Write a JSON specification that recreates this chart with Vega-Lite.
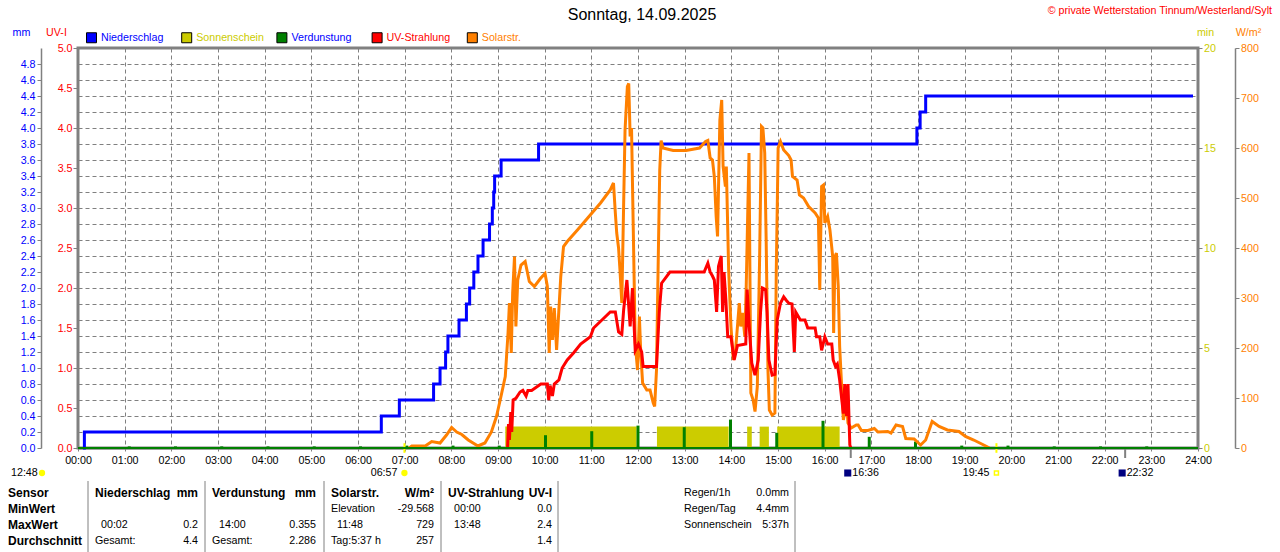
{
  "$schema": "https://vega.github.io/schema/vega-lite/v6.json",
  "width": 1120,
  "height": 400,
  "autosize": {"type": "none"},
  "padding": {"left": 78, "top": 48, "right": 82, "bottom": 104},
  "config": {
    "font": "Liberation Sans",
    "background": "#ffffff",
    "view": {"stroke": "#808080", "strokeWidth": 3},
    "axis": {"labelFont": "Liberation Sans", "labelFontSize": 10.7, "titleFont": "Liberation Sans", "titleFontSize": 10.7, "titleFontWeight": "normal",
      "gridColor": "#808080", "gridDash": [4, 3], "gridOpacity": 1, "gridWidth": 1, "domainColor": "#808080", "tickColor": "#808080"},
    "text": {"font": "Liberation Sans", "fontSize": 10.7, "color": "#000000"}
  },
  "datasets": {
    "header": [
      {"kind": "title", "text": "Sonntag, 14.09.2025"},
      {"kind": "copy", "text": "© private Wetterstation Tinnum/Westerland/Sylt"}
    ],
    "rain": [
      {"h": 0, "mm": 0}, {"h": 0.03, "mm": 0.2}, {"h": 6.45, "mm": 0.4}, {"h": 6.84, "mm": 0.6}, {"h": 7.58, "mm": 0.8},
      {"h": 7.72, "mm": 1.0}, {"h": 7.84, "mm": 1.2}, {"h": 7.89, "mm": 1.4}, {"h": 8.13, "mm": 1.6}, {"h": 8.29, "mm": 1.8},
      {"h": 8.36, "mm": 2.0}, {"h": 8.45, "mm": 2.2}, {"h": 8.54, "mm": 2.4}, {"h": 8.65, "mm": 2.6}, {"h": 8.79, "mm": 2.8},
      {"h": 8.85, "mm": 3.0}, {"h": 8.88, "mm": 3.2}, {"h": 8.9, "mm": 3.4}, {"h": 9.04, "mm": 3.6}, {"h": 9.85, "mm": 3.8},
      {"h": 18.03, "mm": 4.0}, {"h": 18.1, "mm": 4.2}, {"h": 18.22, "mm": 4.4}, {"h": 24, "mm": 4.4}
    ],
    "evap": [
      {"h": 1, "mm": 0.02}, {"h": 2, "mm": 0.02}, {"h": 3, "mm": 0.02}, {"h": 4, "mm": 0.02}, {"h": 5, "mm": 0.02},
      {"h": 6, "mm": 0.02}, {"h": 7, "mm": 0.03}, {"h": 8, "mm": 0.03}, {"h": 9, "mm": 0.03}, {"h": 10, "mm": 0.16},
      {"h": 11, "mm": 0.21}, {"h": 12, "mm": 0.28}, {"h": 13, "mm": 0.26}, {"h": 14, "mm": 0.355}, {"h": 15, "mm": 0.19},
      {"h": 16, "mm": 0.34}, {"h": 17, "mm": 0.14}, {"h": 18, "mm": 0.08}, {"h": 19, "mm": 0.03}, {"h": 20, "mm": 0.03},
      {"h": 21, "mm": 0.02}, {"h": 22, "mm": 0.02}, {"h": 23, "mm": 0.02}
    ],
    "sun": [
      {"h1": 9.13, "h2": 11.97, "min": 1.07}, {"h1": 12.41, "h2": 13.96, "min": 1.07}, {"h1": 14.36, "h2": 14.46, "min": 1.07},
      {"h1": 14.63, "h2": 14.83, "min": 1.07}, {"h1": 15.01, "h2": 16.36, "min": 1.07}
    ],
    "uv": [
      {"h": 9.18, "uv": 0}, {"h": 9.2, "uv": 0.3}, {"h": 9.22, "uv": 0.1}, {"h": 9.25, "uv": 0.45}, {"h": 9.27, "uv": 0.2},
      {"h": 9.3, "uv": 0.6}, {"h": 9.36, "uv": 0.62}, {"h": 9.45, "uv": 0.7}, {"h": 9.51, "uv": 0.72}, {"h": 9.58, "uv": 0.65},
      {"h": 9.62, "uv": 0.72}, {"h": 9.7, "uv": 0.72}, {"h": 9.9, "uv": 0.8}, {"h": 10.04, "uv": 0.8}, {"h": 10.07, "uv": 0.6},
      {"h": 10.1, "uv": 0.78}, {"h": 10.15, "uv": 0.65}, {"h": 10.19, "uv": 0.8}, {"h": 10.29, "uv": 0.85}, {"h": 10.36, "uv": 1.0},
      {"h": 10.47, "uv": 1.1}, {"h": 10.61, "uv": 1.19}, {"h": 10.76, "uv": 1.3}, {"h": 10.97, "uv": 1.39}, {"h": 11.04, "uv": 1.5},
      {"h": 11.22, "uv": 1.6}, {"h": 11.4, "uv": 1.7}, {"h": 11.51, "uv": 1.7}, {"h": 11.58, "uv": 1.45}, {"h": 11.65, "uv": 1.42},
      {"h": 11.69, "uv": 1.73}, {"h": 11.76, "uv": 2.1}, {"h": 11.83, "uv": 1.52}, {"h": 11.88, "uv": 2.0}, {"h": 11.94, "uv": 1.22},
      {"h": 12.01, "uv": 1.3}, {"h": 12.08, "uv": 1.2}, {"h": 12.11, "uv": 1.02}, {"h": 12.4, "uv": 1.02}, {"h": 12.46, "uv": 1.7},
      {"h": 12.51, "uv": 2.06}, {"h": 12.69, "uv": 2.2}, {"h": 13.43, "uv": 2.2}, {"h": 13.51, "uv": 2.31}, {"h": 13.56, "uv": 2.2},
      {"h": 13.61, "uv": 2.15}, {"h": 13.65, "uv": 2.1}, {"h": 13.7, "uv": 1.7}, {"h": 13.74, "uv": 2.27}, {"h": 13.8, "uv": 2.4},
      {"h": 13.83, "uv": 1.7}, {"h": 13.86, "uv": 2.2}, {"h": 13.9, "uv": 1.85}, {"h": 13.94, "uv": 1.39}, {"h": 14.01, "uv": 1.39},
      {"h": 14.08, "uv": 1.1}, {"h": 14.15, "uv": 1.28}, {"h": 14.33, "uv": 1.3}, {"h": 14.36, "uv": 1.98}, {"h": 14.4, "uv": 1.56},
      {"h": 14.46, "uv": 1.06}, {"h": 14.53, "uv": 0.91}, {"h": 14.6, "uv": 1.1}, {"h": 14.65, "uv": 1.7}, {"h": 14.69, "uv": 2.0},
      {"h": 14.76, "uv": 1.98}, {"h": 14.79, "uv": 1.7}, {"h": 14.83, "uv": 1.1}, {"h": 14.9, "uv": 0.91}, {"h": 14.96, "uv": 0.92},
      {"h": 15.01, "uv": 1.6}, {"h": 15.08, "uv": 1.81}, {"h": 15.15, "uv": 1.89}, {"h": 15.2, "uv": 1.85}, {"h": 15.26, "uv": 1.81},
      {"h": 15.33, "uv": 1.8}, {"h": 15.38, "uv": 1.2}, {"h": 15.41, "uv": 1.7}, {"h": 15.51, "uv": 1.6}, {"h": 15.61, "uv": 1.6},
      {"h": 15.67, "uv": 1.5}, {"h": 15.83, "uv": 1.5}, {"h": 15.86, "uv": 1.39}, {"h": 15.93, "uv": 1.39}, {"h": 15.97, "uv": 1.22},
      {"h": 16.04, "uv": 1.39}, {"h": 16.1, "uv": 1.3}, {"h": 16.19, "uv": 1.3}, {"h": 16.22, "uv": 1.1}, {"h": 16.27, "uv": 1.02},
      {"h": 16.31, "uv": 1.05}, {"h": 16.36, "uv": 0.85}, {"h": 16.44, "uv": 0.43}, {"h": 16.47, "uv": 0.8}, {"h": 16.51, "uv": 0.4},
      {"h": 16.54, "uv": 0.8}, {"h": 16.58, "uv": 0.04}, {"h": 16.6, "uv": 0}
    ],
    "solar": [
      {"h": 7.05, "w": 0}, {"h": 7.11, "w": 4}, {"h": 7.4, "w": 4}, {"h": 7.54, "w": 13}, {"h": 7.72, "w": 10},
      {"h": 7.86, "w": 26}, {"h": 7.97, "w": 41}, {"h": 8.08, "w": 32}, {"h": 8.19, "w": 27}, {"h": 8.33, "w": 16},
      {"h": 8.54, "w": 4}, {"h": 8.69, "w": 10}, {"h": 8.83, "w": 32}, {"h": 8.94, "w": 63}, {"h": 9.03, "w": 100},
      {"h": 9.13, "w": 143}, {"h": 9.19, "w": 230}, {"h": 9.22, "w": 290}, {"h": 9.26, "w": 190}, {"h": 9.29, "w": 310},
      {"h": 9.33, "w": 383}, {"h": 9.36, "w": 243}, {"h": 9.4, "w": 336}, {"h": 9.47, "w": 366}, {"h": 9.56, "w": 373},
      {"h": 9.65, "w": 333}, {"h": 9.76, "w": 323}, {"h": 9.89, "w": 339}, {"h": 9.99, "w": 349}, {"h": 10.04, "w": 323},
      {"h": 10.08, "w": 190}, {"h": 10.11, "w": 283}, {"h": 10.15, "w": 216}, {"h": 10.19, "w": 280}, {"h": 10.24, "w": 196},
      {"h": 10.33, "w": 343}, {"h": 10.39, "w": 403}, {"h": 10.47, "w": 413}, {"h": 10.69, "w": 436}, {"h": 10.94, "w": 463},
      {"h": 11.19, "w": 490}, {"h": 11.4, "w": 516}, {"h": 11.47, "w": 530}, {"h": 11.51, "w": 470}, {"h": 11.54, "w": 430},
      {"h": 11.58, "w": 400}, {"h": 11.61, "w": 356}, {"h": 11.65, "w": 290}, {"h": 11.69, "w": 490}, {"h": 11.72, "w": 636},
      {"h": 11.77, "w": 723}, {"h": 11.8, "w": 729}, {"h": 11.83, "w": 623}, {"h": 11.86, "w": 640}, {"h": 11.9, "w": 426},
      {"h": 11.94, "w": 210}, {"h": 11.99, "w": 156}, {"h": 12.03, "w": 263}, {"h": 12.06, "w": 190}, {"h": 12.1, "w": 130},
      {"h": 12.19, "w": 116}, {"h": 12.26, "w": 116}, {"h": 12.33, "w": 90}, {"h": 12.36, "w": 83}, {"h": 12.4, "w": 156},
      {"h": 12.44, "w": 390}, {"h": 12.47, "w": 556}, {"h": 12.5, "w": 615}, {"h": 12.54, "w": 600}, {"h": 12.76, "w": 595},
      {"h": 13.04, "w": 595}, {"h": 13.33, "w": 600}, {"h": 13.46, "w": 613}, {"h": 13.51, "w": 615}, {"h": 13.56, "w": 580},
      {"h": 13.61, "w": 576}, {"h": 13.65, "w": 543}, {"h": 13.69, "w": 463}, {"h": 13.72, "w": 423}, {"h": 13.77, "w": 656},
      {"h": 13.81, "w": 696}, {"h": 13.84, "w": 563}, {"h": 13.89, "w": 523}, {"h": 13.91, "w": 563}, {"h": 13.96, "w": 356},
      {"h": 14.01, "w": 243}, {"h": 14.06, "w": 176}, {"h": 14.11, "w": 196}, {"h": 14.19, "w": 290}, {"h": 14.22, "w": 243},
      {"h": 14.26, "w": 270}, {"h": 14.31, "w": 223}, {"h": 14.34, "w": 323}, {"h": 14.4, "w": 590}, {"h": 14.44, "w": 110},
      {"h": 14.49, "w": 96}, {"h": 14.53, "w": 73}, {"h": 14.58, "w": 123}, {"h": 14.63, "w": 383}, {"h": 14.67, "w": 643},
      {"h": 14.7, "w": 640}, {"h": 14.74, "w": 590}, {"h": 14.77, "w": 423}, {"h": 14.81, "w": 156}, {"h": 14.84, "w": 76},
      {"h": 14.9, "w": 66}, {"h": 14.96, "w": 70}, {"h": 14.99, "w": 356}, {"h": 15.03, "w": 600}, {"h": 15.08, "w": 613},
      {"h": 15.15, "w": 596}, {"h": 15.26, "w": 585}, {"h": 15.31, "w": 576}, {"h": 15.34, "w": 543}, {"h": 15.44, "w": 536},
      {"h": 15.49, "w": 506}, {"h": 15.58, "w": 500}, {"h": 15.69, "w": 483}, {"h": 15.83, "w": 470}, {"h": 15.9, "w": 460},
      {"h": 15.93, "w": 316}, {"h": 15.97, "w": 523}, {"h": 16.01, "w": 526}, {"h": 16.04, "w": 450}, {"h": 16.1, "w": 463},
      {"h": 16.15, "w": 436}, {"h": 16.21, "w": 383}, {"h": 16.23, "w": 230}, {"h": 16.26, "w": 383}, {"h": 16.29, "w": 390},
      {"h": 16.33, "w": 323}, {"h": 16.36, "w": 203}, {"h": 16.44, "w": 56}, {"h": 16.51, "w": 90}, {"h": 16.54, "w": 50},
      {"h": 16.61, "w": 40}, {"h": 16.72, "w": 46}, {"h": 16.76, "w": 46}, {"h": 16.83, "w": 35}, {"h": 16.97, "w": 35},
      {"h": 17.11, "w": 39}, {"h": 17.19, "w": 32}, {"h": 17.4, "w": 33}, {"h": 17.47, "w": 30}, {"h": 17.58, "w": 46},
      {"h": 17.72, "w": 43}, {"h": 17.79, "w": 19}, {"h": 17.97, "w": 18}, {"h": 18.11, "w": 6}, {"h": 18.22, "w": 16},
      {"h": 18.36, "w": 53}, {"h": 18.51, "w": 43}, {"h": 18.69, "w": 36}, {"h": 18.94, "w": 33}, {"h": 19.08, "w": 23},
      {"h": 19.26, "w": 16}, {"h": 19.54, "w": 3}, {"h": 19.6, "w": 0}
    ],
    "events": [
      {"h": 6.95, "t": "06:57", "kind": "sun", "name": "Sonnenaufgang"},
      {"h": 19.75, "t": "19:45", "kind": "sun", "name": "Sonnenuntergang"},
      {"h": 16.6, "t": "16:36", "kind": "moon", "name": "Monduntergang"},
      {"h": 22.533, "t": "22:32", "kind": "moon", "name": "Mondaufgang"}
    ],
    "table": [
      {"r": 0, "c": 1, "s": "n", "text": "12:48"},
      {"r": 0, "c": 2, "s": "icon", "text": ""},
      {"r": 1, "c": 0, "s": "b", "text": "Sensor"},
      {"r": 1, "c": 4, "s": "b", "text": "Niederschlag"},
      {"r": 1, "c": 6, "s": "br", "text": "mm"},
      {"r": 1, "c": 8, "s": "b", "text": "Verdunstung"},
      {"r": 1, "c": 10, "s": "br", "text": "mm"},
      {"r": 1, "c": 12, "s": "b", "text": "Solarstr."},
      {"r": 1, "c": 14, "s": "br", "text": "W/m²"},
      {"r": 1, "c": 16, "s": "b", "text": "UV-Strahlung"},
      {"r": 1, "c": 18, "s": "br", "text": "UV-I"},
      {"r": 1, "c": 20, "s": "n", "text": "Regen/1h"},
      {"r": 1, "c": 21, "s": "nr", "text": "0.0mm"},
      {"r": 2, "c": 0, "s": "b", "text": "MinWert"},
      {"r": 2, "c": 12, "s": "n", "text": "Elevation"},
      {"r": 2, "c": 14, "s": "nr", "text": "-29.568"},
      {"r": 2, "c": 17, "s": "n", "text": "00:00"},
      {"r": 2, "c": 18, "s": "nr", "text": "0.0"},
      {"r": 2, "c": 20, "s": "n", "text": "Regen/Tag"},
      {"r": 2, "c": 21, "s": "nr", "text": "4.4mm"},
      {"r": 3, "c": 0, "s": "b", "text": "MaxWert"},
      {"r": 3, "c": 5, "s": "n", "text": "00:02"},
      {"r": 3, "c": 6, "s": "nr", "text": "0.2"},
      {"r": 3, "c": 9, "s": "n", "text": "14:00"},
      {"r": 3, "c": 10, "s": "nr", "text": "0.355"},
      {"r": 3, "c": 13, "s": "n", "text": "11:48"},
      {"r": 3, "c": 14, "s": "nr", "text": "729"},
      {"r": 3, "c": 17, "s": "n", "text": "13:48"},
      {"r": 3, "c": 18, "s": "nr", "text": "2.4"},
      {"r": 3, "c": 20, "s": "n", "text": "Sonnenschein"},
      {"r": 3, "c": 21, "s": "nr", "text": "5:37h"},
      {"r": 4, "c": 0, "s": "b", "text": "Durchschnitt"},
      {"r": 4, "c": 4, "s": "n", "text": "Gesamt:"},
      {"r": 4, "c": 6, "s": "nr", "text": "4.4"},
      {"r": 4, "c": 8, "s": "n", "text": "Gesamt:"},
      {"r": 4, "c": 10, "s": "nr", "text": "2.286"},
      {"r": 4, "c": 12, "s": "n", "text": "Tag:5:37 h"},
      {"r": 4, "c": 14, "s": "nr", "text": "257"},
      {"r": 4, "c": 18, "s": "nr", "text": "1.4"}
    ],
    "seps": [{"c": 3}, {"c": 7}, {"c": 11}, {"c": 15}, {"c": 19}, {"c": 22}]
  },
  "layer": [
    {
      "layer": [
        {
          "data": {"name": "sun"},
          "mark": {"type": "rect", "color": "#cccc00"},
          "encoding": {
            "x": {"field": "h1", "type": "quantitative", "scale": {"domain": [0, 24]}, "axis": null},
            "x2": {"field": "h2"},
            "y": {"field": "min", "type": "quantitative", "scale": {"domain": [0, 20]},
              "axis": {"orient": "right", "offset": 0, "values": [0, 5, 10, 15, 20], "labelColor": "#cccc00", "domain": false,
                "tickSize": 4, "labelPadding": 1.5, "grid": false, "title": "min", "titleColor": "#cccc00", "titleAngle": 0,
                "titleX": 7, "titleY": -16, "titleAlign": "center", "titleBaseline": "middle"}},
            "y2": {"datum": 0}
          }
        },
        {
          "data": {"name": "evap"},
          "mark": {"type": "bar", "color": "#008000", "size": 3},
          "encoding": {
            "x": {"field": "h", "type": "quantitative", "scale": {"domain": [0, 24]}, "axis": null},
            "y": {"field": "mm", "type": "quantitative", "scale": {"domain": [0, 5]}, "axis": null}
          }
        },
        {
          "data": {"name": "rain"},
          "mark": {"type": "line", "interpolate": "step-after", "color": "#0000ff", "strokeWidth": 3},
          "encoding": {
            "x": {"field": "h", "type": "quantitative", "scale": {"domain": [0, 24]}, "axis": null},
            "y": {"field": "mm", "type": "quantitative", "scale": {"domain": [0, 5]},
              "axis": {"orient": "left", "offset": 37,
                "values": [0, 0.2, 0.4, 0.6, 0.8, 1, 1.2, 1.4, 1.6, 1.8, 2, 2.2, 2.4, 2.6, 2.8, 3, 3.2, 3.4, 3.6, 3.8, 4, 4.2, 4.4, 4.6, 4.8],
                "format": ".1f", "labelColor": "#0000ff", "tickSize": 4, "labelPadding": 2, "domainWidth": 1.5, "grid": true, "gridDash": [4, 3],
                "title": "mm", "titleColor": "#0000ff", "titleAngle": 0, "titleX": -20, "titleY": -16, "titleAlign": "center", "titleBaseline": "middle"}}
          }
        },
        {
          "data": {"name": "solar"},
          "mark": {"type": "line", "color": "#ff8000", "strokeWidth": 3},
          "encoding": {
            "x": {"field": "h", "type": "quantitative", "scale": {"domain": [0, 24]}, "axis": null},
            "y": {"field": "w", "type": "quantitative", "scale": {"domain": [0, 800]},
              "axis": {"orient": "right", "offset": 37, "values": [0, 100, 200, 300, 400, 500, 600, 700, 800], "labelColor": "#ff8000",
                "domainWidth": 1.5, "tickSize": 4, "labelPadding": 1.5, "grid": false, "title": "W/m²", "titleColor": "#ff8000",
                "titleAngle": 0, "titleX": 13, "titleY": -16, "titleAlign": "center", "titleBaseline": "middle"}}
          }
        },
        {
          "data": {"name": "uv"},
          "mark": {"type": "line", "color": "#ff0000", "strokeWidth": 3},
          "encoding": {
            "x": {"field": "h", "type": "quantitative", "scale": {"domain": [0, 24]}, "axis": null},
            "y": {"field": "uv", "type": "quantitative", "scale": {"domain": [0, 5]},
              "axis": {"orient": "left", "offset": 0, "values": [0, 0.5, 1, 1.5, 2, 2.5, 3, 3.5, 4, 4.5, 5], "format": ".1f",
                "labelColor": "#ff0000", "domain": false, "tickSize": 5, "labelPadding": 1, "grid": false, "title": "UV-I",
                "titleColor": "#ff0000", "titleAngle": 0, "titleX": -22, "titleY": -16, "titleAlign": "center", "titleBaseline": "middle"}}
          }
        },
        {
          "data": {"name": "events"},
          "layer": [
            {
              "transform": [{"filter": "datum.kind == 'sun'"}],
              "mark": {"type": "rule", "color": "#ffff00", "strokeWidth": 2},
              "encoding": {
                "x": {"field": "h", "type": "quantitative", "scale": {"domain": [0, 24]}, "axis": null},
                "y": {"datum": 0.06, "type": "quantitative", "scale": {"domain": [0, 5]}, "axis": null},
                "y2": {"datum": -0.06}
              }
            },
            {
              "transform": [{"filter": "datum.kind == 'moon'"}],
              "mark": {"type": "rule", "color": "#808080", "strokeWidth": 2},
              "encoding": {
                "x": {"field": "h", "type": "quantitative", "scale": {"domain": [0, 24]}, "axis": null},
                "y": {"datum": 0, "type": "quantitative", "scale": {"domain": [0, 5]}, "axis": null},
                "y2": {"datum": -0.125}
              }
            },
            {
              "transform": [{"filter": "datum.kind == 'sun'"}],
              "mark": {"type": "text", "align": "right", "baseline": "middle", "dx": -7},
              "encoding": {
                "x": {"field": "h", "type": "quantitative", "scale": {"domain": [0, 24]}, "axis": null},
                "y": {"datum": -0.3125, "type": "quantitative", "scale": {"domain": [0, 5]}, "axis": null},
                "text": {"field": "t"}
              }
            },
            {
              "transform": [{"filter": "datum.kind == 'moon'"}],
              "mark": {"type": "text", "align": "left", "baseline": "middle", "dx": 1.5},
              "encoding": {
                "x": {"field": "h", "type": "quantitative", "scale": {"domain": [0, 24]}, "axis": null},
                "y": {"datum": -0.3125, "type": "quantitative", "scale": {"domain": [0, 5]}, "axis": null},
                "text": {"field": "t"}
              }
            },
            {
              "transform": [{"filter": "datum.name == 'Sonnenaufgang'"}],
              "mark": {"type": "circle", "color": "#ffff00", "size": 40, "opacity": 1},
              "encoding": {
                "x": {"field": "h", "type": "quantitative", "scale": {"domain": [0, 24]}, "axis": null},
                "y": {"datum": -0.3125, "type": "quantitative", "scale": {"domain": [0, 5]}, "axis": null}
              }
            },
            {
              "transform": [{"filter": "datum.name == 'Sonnenuntergang'"}],
              "mark": {"type": "square", "filled": false, "color": "#ffff00", "size": 16, "strokeWidth": 1.5, "opacity": 1},
              "encoding": {
                "x": {"field": "h", "type": "quantitative", "scale": {"domain": [0, 24]}, "axis": null},
                "y": {"datum": -0.3125, "type": "quantitative", "scale": {"domain": [0, 5]}, "axis": null}
              }
            },
            {
              "transform": [{"filter": "datum.kind == 'moon'"}],
              "mark": {"type": "square", "color": "#000080", "size": 50, "xOffset": -3, "opacity": 1},
              "encoding": {
                "x": {"field": "h", "type": "quantitative", "scale": {"domain": [0, 24]}, "axis": null},
                "y": {"datum": -0.3125, "type": "quantitative", "scale": {"domain": [0, 5]}, "axis": null}
              }
            },
            {
              "data": {"name": "header"},
              "transform": [{"filter": "datum.kind == 'title'"}],
              "mark": {"type": "text", "align": "center", "baseline": "middle", "fontSize": 16, "dx": 4},
              "encoding": {
                "x": {"datum": 12, "type": "quantitative", "scale": {"domain": [0, 24]}, "axis": null},
                "y": {"datum": 5.41, "type": "quantitative", "scale": {"domain": [0, 5]}, "axis": null},
                "text": {"field": "text"}
              }
            },
            {
              "data": {"name": "header"},
              "transform": [{"filter": "datum.kind == 'copy'"}],
              "mark": {"type": "text", "align": "right", "baseline": "middle", "color": "#ff0000", "dx": 79},
              "encoding": {
                "x": {"datum": 24, "type": "quantitative", "scale": {"domain": [0, 24]}, "axis": null},
                "y": {"datum": 5.46, "type": "quantitative", "scale": {"domain": [0, 5]}, "axis": null},
                "text": {"field": "text"}
              }
            }
          ]
        }
      ],
      "resolve": {"scale": {"y": "independent"}}
    },
    {
      "data": {"values": [{}]},
      "mark": {"type": "rule", "color": "#008000", "strokeWidth": 2},
      "encoding": {
        "x": {"datum": 0, "type": "quantitative", "scale": {"domain": [0, 24]},
          "axis": {"orient": "bottom", "values": [0, 1, 2, 3, 4, 5, 6, 7, 8, 9, 10, 11, 12, 13, 14, 15, 16, 17, 18, 19, 20, 21, 22, 23, 24],
            "labelExpr": "format(datum.value, '02d') + ':00'", "labels": true, "grid": true, "gridDash": [4, 3], "gridColor": "#808080",
            "domain": true, "domainColor": "#808080", "domainWidth": 2, "ticks": true, "tickSize": 3, "tickColor": "#808080",
            "labelPadding": 4, "labelColor": "#000000", "labelFontSize": 10.7, "labelFlush": false, "labelOverlap": false, "title": null}},
        "x2": {"datum": 24},
        "y": {"datum": 0, "type": "quantitative", "scale": {"domain": [0, 5]}, "axis": null}
      }
    },
    {
      "data": {"name": "table"},
      "layer": [
        {
          "transform": [{"filter": "datum.s == 'b'"}],
          "mark": {"type": "text", "align": "left", "baseline": "middle", "fontWeight": "bold", "fontSize": 12},
          "encoding": {
            "x": {"field": "c", "type": "quantitative", "axis": null,
              "scale": {"domain": [0, 1, 2, 3, 4, 5, 6, 7, 8, 9, 10, 11, 12, 13, 14, 15, 16, 17, 18, 19, 20, 21, 22],
                "range": [-70, -67, -36, 10, 17, 23, 120, 127, 134, 141, 238, 246, 253, 259, 356, 363, 370, 376, 474, 480, 606, 711, 717]}},
            "y": {"field": "r", "type": "quantitative", "axis": null,
              "scale": {"domain": [0, 1, 4], "range": [425, 445, 493]}},
            "text": {"field": "text"}
          }
        },
        {
          "transform": [{"filter": "datum.s == 'n'"}],
          "mark": {"type": "text", "align": "left", "baseline": "middle"},
          "encoding": {
            "x": {"field": "c", "type": "quantitative", "axis": null},
            "y": {"field": "r", "type": "quantitative", "axis": null},
            "text": {"field": "text"}
          }
        },
        {
          "transform": [{"filter": "datum.s == 'br'"}],
          "mark": {"type": "text", "align": "right", "baseline": "middle", "fontWeight": "bold", "fontSize": 12},
          "encoding": {
            "x": {"field": "c", "type": "quantitative", "axis": null},
            "y": {"field": "r", "type": "quantitative", "axis": null},
            "text": {"field": "text"}
          }
        },
        {
          "transform": [{"filter": "datum.s == 'nr'"}],
          "mark": {"type": "text", "align": "right", "baseline": "middle"},
          "encoding": {
            "x": {"field": "c", "type": "quantitative", "axis": null},
            "y": {"field": "r", "type": "quantitative", "axis": null},
            "text": {"field": "text"}
          }
        },
        {
          "transform": [{"filter": "datum.s == 'icon'"}],
          "mark": {"type": "circle", "color": "#ffff00", "size": 40, "opacity": 1},
          "encoding": {
            "x": {"field": "c", "type": "quantitative", "axis": null},
            "y": {"field": "r", "type": "quantitative", "axis": null}
          }
        },
        {
          "data": {"name": "seps"},
          "mark": {"type": "rule", "color": "#808080", "strokeWidth": 1},
          "encoding": {
            "x": {"field": "c", "type": "quantitative", "axis": null},
            "y": {"datum": 0.4, "type": "quantitative", "axis": null},
            "y2": {"datum": 4.7}
          }
        }
      ]
    },
    {
      "data": {"values": [{"s": "Niederschlag"}, {"s": "Sonnenschein"}, {"s": "Verdunstung"}, {"s": "UV-Strahlung"}, {"s": "Solarstr."}]},
      "mark": {"type": "square", "size": 0},
      "encoding": {
        "color": {"field": "s", "type": "nominal",
          "scale": {"domain": ["Niederschlag", "Sonnenschein", "Verdunstung", "UV-Strahlung", "Solarstr."],
            "range": ["#0000ff", "#cccc00", "#008000", "#ff0000", "#ff8000"]},
          "legend": {"orient": "none", "legendX": 8, "legendY": -16, "direction": "horizontal", "title": null,
            "symbolType": "square", "symbolSize": 100, "symbolStrokeColor": "#000000", "symbolStrokeWidth": 1, "symbolOpacity": 1,
            "labelFont": "Liberation Sans", "labelFontSize": 10.7, "labelOffset": 4, "columnPadding": 10.2, "gridAlign": "all", "padding": 0,
            "labelColor": {"expr": "datum.label == 'Sonnenschein' ? '#cccc00' : datum.label == 'UV-Strahlung' ? '#ff0000' : datum.label == 'Solarstr.' ? '#ff8000' : '#0000ff'"}}}
      }
    }
  ],
  "resolve": {"scale": {"x": "independent", "y": "independent"}}
}
